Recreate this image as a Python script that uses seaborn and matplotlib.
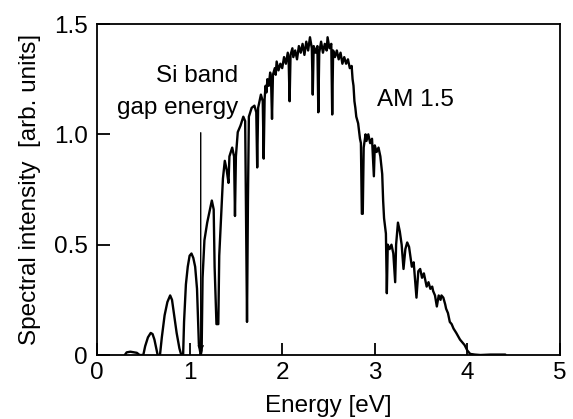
import matplotlib
matplotlib.use("Agg")
import matplotlib.pyplot as plt
import seaborn as sns
import pandas as pd

# Spectrum (energy in eV, intensity in arb. units)
energy = [
    0.30, 0.32, 0.36, 0.40, 0.43, 0.46, 0.50, 0.52, 0.55, 0.58, 0.60, 0.62, 0.64, 0.655,
    0.68, 0.70, 0.73, 0.76, 0.79, 0.81, 0.83, 0.86, 0.89, 0.91,
    0.93, 0.94, 0.96, 0.98, 1.00, 1.02, 1.04, 1.06, 1.08, 1.10, 1.12,
    1.13, 1.14, 1.16, 1.19, 1.22, 1.24, 1.26, 1.27, 1.29, 1.31,
    1.32, 1.34, 1.36, 1.38, 1.40, 1.42, 1.43, 1.46, 1.48, 1.49, 1.50, 1.52, 1.55, 1.58,
    1.60, 1.61, 1.62, 1.63, 1.64, 1.67, 1.70, 1.72, 1.73, 1.74, 1.77, 1.79, 1.80, 1.81,
    1.82, 1.83, 1.84, 1.855, 1.87, 1.88, 1.89, 1.90, 1.92, 1.93, 1.94, 1.96, 1.98, 2.00,
    2.02, 2.04, 2.06, 2.07, 2.08, 2.09, 2.11, 2.12, 2.14, 2.16, 2.18, 2.20, 2.22, 2.24,
    2.26, 2.28, 2.30, 2.32, 2.33, 2.34, 2.36, 2.38, 2.39, 2.40, 2.42, 2.44, 2.46, 2.48,
    2.49, 2.51, 2.53, 2.54, 2.55, 2.57, 2.59, 2.61, 2.63, 2.65, 2.67, 2.69, 2.71, 2.73,
    2.75, 2.76, 2.77, 2.78, 2.79, 2.80, 2.82, 2.84, 2.85, 2.86, 2.87, 2.88, 2.90, 2.91,
    2.93, 2.95, 2.97, 2.99, 3.00, 3.02, 3.04, 3.06, 3.08, 3.09, 3.10, 3.12, 3.13, 3.14,
    3.16, 3.18, 3.20, 3.22, 3.23, 3.25, 3.27, 3.29, 3.31, 3.33, 3.35, 3.37, 3.40, 3.42,
    3.45, 3.47, 3.49, 3.51, 3.53, 3.56, 3.58, 3.60, 3.62, 3.63, 3.65, 3.67, 3.69, 3.71,
    3.72, 3.74, 3.76, 3.77, 3.79, 3.81, 3.83, 3.85, 3.88, 3.90, 3.92, 3.95, 3.97, 4.00,
    4.03, 4.08, 4.14, 4.25, 4.41,
]
intensity = [
    0.00, 0.012, 0.015, 0.012, 0.010, 0.0, 0.0, 0.04, 0.08, 0.10, 0.095, 0.07, 0.03, 0.0,
    0.0, 0.08, 0.18, 0.24, 0.27, 0.25, 0.19, 0.10, 0.03, 0.0,
    0.0, 0.15, 0.32, 0.40, 0.45, 0.46, 0.44, 0.40, 0.30, 0.05, 0.0,
    0.02, 0.35, 0.52, 0.60, 0.66, 0.70, 0.66, 0.40, 0.14, 0.14,
    0.45, 0.62, 0.80, 0.88, 0.84, 0.78, 0.90, 0.94, 0.90, 0.63, 0.90, 1.01, 1.04, 1.08,
    1.06, 0.60, 0.15, 0.70, 1.08, 1.12, 1.13, 1.10, 0.85, 1.12, 1.18, 1.15, 0.89, 1.16,
    1.22, 1.19, 1.25, 1.22, 1.28, 1.24, 1.07, 1.27, 1.30, 1.27, 1.33, 1.29, 1.32, 1.30,
    1.35, 1.32, 1.37, 1.33, 1.15, 1.36, 1.39, 1.35, 1.38, 1.34, 1.40, 1.37, 1.41, 1.36,
    1.42, 1.38, 1.44, 1.39, 1.18, 1.40, 1.37, 1.40, 1.10, 1.37, 1.42, 1.37, 1.41, 1.38,
    1.44, 1.39, 1.41, 1.09, 1.38, 1.35, 1.38, 1.34, 1.37, 1.32, 1.35, 1.32, 1.34, 1.30,
    1.31, 1.25, 1.22, 1.15, 1.12, 1.08, 1.05, 0.98, 0.96, 0.64, 0.64, 0.94, 1.00, 0.97,
    1.00, 0.96, 0.98, 0.81, 0.95, 0.92, 0.94, 0.90, 0.82, 0.70, 0.62, 0.55, 0.28, 0.50,
    0.48, 0.50, 0.46, 0.33, 0.50, 0.60, 0.56, 0.50, 0.39, 0.48, 0.51, 0.49, 0.40, 0.42,
    0.26, 0.38, 0.39, 0.35, 0.37, 0.31, 0.33, 0.30, 0.31, 0.29, 0.27, 0.22, 0.27, 0.25,
    0.27, 0.26, 0.23, 0.21, 0.19, 0.15, 0.14, 0.12, 0.10, 0.085, 0.07, 0.055, 0.045, 0.02,
    0.005, 0.002, 0.0, 0.002, 0.002,
]

xticks = [0, 1, 2, 3, 4, 5]
xtick_labels = ["0", "1", "2", "3", "4", "5"]
yticks = [0, 0.5, 1.0, 1.5]
ytick_labels = ["0", "0.5", "1.0", "1.5"]

si_gap = 1.12

sns.set_theme(style="white")
plt.rcParams["font.family"] = ["Liberation Sans", "DejaVu Sans"]

fig = plt.figure(figsize=(5.73, 4.19), dpi=100)
ax = fig.add_axes([0.1693, 0.1527, 0.808, 0.790])

df = pd.DataFrame({"Energy": energy, "Intensity": intensity})
sns.lineplot(data=df, x="Energy", y="Intensity", ax=ax, color="black",
             linewidth=1.7, estimator=None, sort=False)

ax.set_xlim(0, 5)
ax.set_ylim(0, 1.5)
ax.set_xticks(xticks)
ax.set_xticklabels(xtick_labels)
ax.set_yticks(yticks)
ax.set_yticklabels(ytick_labels)

for s in ax.spines.values():
    s.set_color("black")
    s.set_linewidth(1.3)

fs = 17.5
ax.tick_params(axis="both", which="major", direction="in", length=9, width=1.3,
               color="black", labelsize=fs, labelcolor="black",
               top=False, right=False, bottom=True, left=True)
ax.tick_params(axis="y", pad=6.5)
ax.tick_params(axis="x", pad=5.0)

ax.set_xlabel("Energy [eV]", fontsize=fs, color="black")
ax.set_ylabel("Spectral intensity  [arb. units]", fontsize=fs, color="black")
ax.xaxis.set_label_coords(0.5, -0.122)
ax.yaxis.set_label_coords(-0.12, 0.5)

# Si band gap marker
ax.annotate("", xy=(si_gap, 0.0), xytext=(si_gap, 1.02),
            arrowprops=dict(arrowstyle="->,head_length=0.3,head_width=0.15",
                            color="black", lw=1.0))
ax.text(1.52, 1.264, "Si band", ha="right", va="center", fontsize=fs, color="black")
ax.text(1.52, 1.12, "gap energy", ha="right", va="center", fontsize=fs, color="black")
ax.text(3.02, 1.155, "AM 1.5", ha="left", va="center", fontsize=fs, color="black")

fig.savefig("out.png", dpi=100)
